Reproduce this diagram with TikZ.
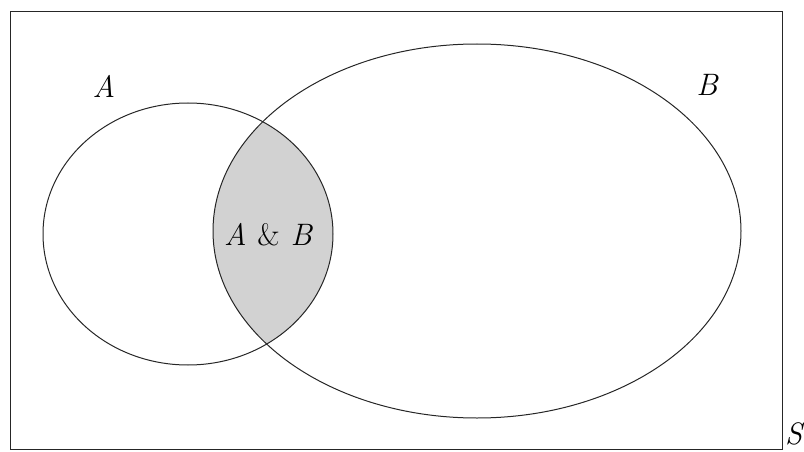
\documentclass[tikz,border=0pt]{standalone}
\usetikzlibrary{positioning}
\tikzset{
  setline/.style = {draw=black!85, line width=1pt},
  overlap/.style = {fill=gray!35},
  lbl/.style     = {font=\fontsize{31}{36}\selectfont\itshape, inner sep=0pt},
}
\begin{document}
\begin{tikzpicture}[x=1pt, y=-1pt]
  \useasboundingbox (0,0) rectangle (804,452);

  % shaded intersection
  \begin{scope}
    \clip (188,234) ellipse (145 and 131);
    \fill[overlap] (477,231) ellipse (264 and 187);
  \end{scope}

  \draw[setline] (10,12) rectangle (782,449);
  \draw[setline] (188,234) ellipse (145 and 131);
  \draw[setline] (477,231) ellipse (264 and 187);

  \node[lbl] (setA)  at (104,86)  {A};
  \node[lbl] (setB)  at (707,85)  {B};
  \node[lbl] (setAB) at (268,235) {A \textup{\&} B};
  \node[lbl, anchor=base west] (space) at (785,444) {S};
\end{tikzpicture}
\end{document}
